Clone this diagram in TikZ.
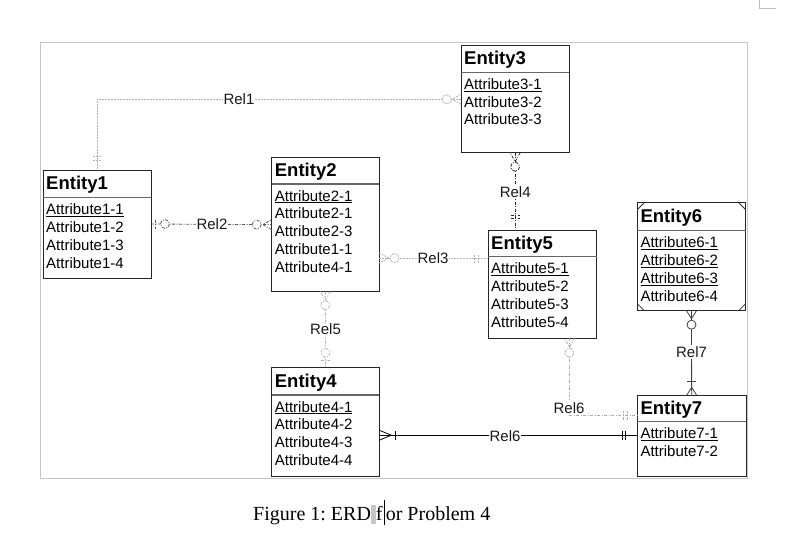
\documentclass[tikz,border=0pt]{standalone}
\usepackage{fontspec}
\setmainfont{Liberation Serif}
\newfontfamily\arialfont{Liberation Sans}
\usetikzlibrary{calc}
\frenchspacing
\tikzset{
  ebox/.style={draw=black!85, line width=1pt, fill=white, inner sep=0pt, outer sep=0pt, anchor=north west},
  etitle/.style={font=\arialfont\bfseries\fontsize{18.5}{20}\selectfont, inner sep=0pt, anchor=base west},
  eattr/.style={font=\arialfont\fontsize{15}{17}\selectfont, inner sep=0pt, anchor=base west},
  esep/.style={draw=black!60, line width=1.5pt},
  rlabel/.style={font=\arialfont\fontsize{15}{17}\selectfont, fill=white, inner sep=1pt, text=black!90},
  sym/.style={solid, line width=0.75pt},
  dashdot/.style={dash pattern=on 3pt off 1.5pt on 1pt off 1.5pt},
  rel1/.style={draw=gray!60, line width=0.8pt, dash pattern=on 2pt off 1pt},
  rel2/.style={draw=black!65, line width=0.8pt, dashdot},
  rel3/.style={draw=gray!60, line width=0.8pt, dash pattern=on 2pt off 1pt},
  rel4/.style={draw=black!85, line width=0.8pt, dashdot},
  rel5/.style={draw=gray!60, line width=0.8pt, dashdot},
  rel6a/.style={draw=gray!65, line width=0.8pt, dashdot},
  rel6b/.style={draw=black, line width=0.8pt},
  rel7/.style={draw=black!75, line width=0.8pt},
  frame/.style={draw=gray!45, line width=1pt},
}
\newcommand\erdentity[8]{%
  \node[ebox, minimum width=#4pt, minimum height=#5pt] (#1) at (#2,#3) {};
  \draw[esep] ($(#1.north west)+(0,#6)$) -- ($(#1.north east)+(0,#6)$);
  \node[etitle] (#1-t) at ($(#1.north west)+(3,#6/2+5.8)$) {#7};
  \foreach \a [count=\i] in {#8} {
    \node[eattr] (#1-a\i) at ($(#1.north west)+(3,#6+17+\i*17.8-17.8)$) {\a};
  }%
}
\newcommand\crowsym[4]{\draw[sym,#1,shift={(#2)},rotate=#3] (0,-5) -- (#4,0) -- (0,5);}
\newcommand\ringsym[4]{\draw[sym,#1,fill=white,shift={(#2)},rotate=#3] (#4,0) circle[radius=4.5];}
\newcommand\ticksym[4]{\draw[sym,#1,shift={(#2)},rotate=#3] (#4,-4.5) -- (#4,4.5);}
\begin{document}
\begin{tikzpicture}[x=1pt,y=-1pt]
\useasboundingbox (0,0) rectangle (787,536);
\fill[white] (0,0) rectangle (787,536);
% page corner mark and frame
\draw[draw=gray!50, line width=0.8pt] (759.3,0) -- (759.3,8.3) -- (776,8.3);
\draw[frame] (40.5,42.3) rectangle (747.3,478.3);

% entities
\erdentity{e1}{43}{170}{108}{108}{27.7}{Entity1}{\underline{Attribute1-1},Attribute1-2,Attribute1-3,Attribute1-4}
\erdentity{e2}{271.7}{157.5}{107.3}{134.2}{26.5}{Entity2}{\underline{Attribute2-1},Attribute2-1,Attribute2-3,Attribute1-1,Attribute4-1}
\erdentity{e3}{461}{45}{108.3}{107.7}{27.3}{Entity3}{\underline{Attribute3-1},Attribute3-2,Attribute3-3}
\erdentity{e4}{271.7}{367.7}{107.6}{108.3}{27.3}{Entity4}{\underline{Attribute4-1},Attribute4-2,Attribute4-3,Attribute4-4}
\erdentity{e5}{488}{230}{108.7}{108}{26.7}{Entity5}{\underline{Attribute5-1},Attribute5-2,Attribute5-3,Attribute5-4}
\erdentity{e6}{637.3}{202.7}{108.4}{108}{28}{Entity6}{\underline{Attribute6-1},\underline{Attribute6-2},\underline{Attribute6-3},Attribute6-4}
\erdentity{e7}{637.3}{395.3}{108.7}{80.7}{26.4}{Entity7}{\underline{Attribute7-1},Attribute7-2}
% Entity6 corner marks
\draw[black!80, line width=0.8pt]
  ($(e6.north west)+(0,7)$) -- ($(e6.north west)+(7,0)$)
  ($(e6.north east)+(0,7)$) -- ($(e6.north east)+(-7,0)$)
  ($(e6.south west)+(0,-7)$) -- ($(e6.south west)+(7,0)$)
  ($(e6.south east)+(0,-7)$) -- ($(e6.south east)+(-7,0)$);

% connector end points
\coordinate (r1a) at ($(e3.north west)+(0,54.3)$);
\coordinate (r3a) at ($(e2.north east)+(0,100.5)$);
\coordinate (r3b) at (e5.west |- r3a);
\coordinate (r4b) at (e3.south |- e5.north);
\coordinate (r6a) at ($(e5.south west)+(81.3,0)$);
\coordinate (r6c) at ($(e7.north west)+(0,19.7)$);
\coordinate (r6d) at ($(e4.north east)+(0,67.5)$);
\coordinate (r6e) at (e7.west |- r6d);

% connectors
\draw[rel1] (r1a) -| (e1.north);
\draw[rel2] (e1.east) -- (e2.west);
\draw[rel3] (r3a) -- (r3b);
\draw[rel4] (e3.south) -- (r4b);
\draw[rel5] (e2.south) -- (e4.north);
\draw[rel6a] (r6a) |- (r6c);
\draw[rel6b] (r6d) -- (r6e);
\draw[rel7] (e6.south) -- (e7.north);

% end symbols
\crowsym{rel1}{r1a}{180}{9} \ringsym{rel1}{r1a}{180}{14.3}
\ticksym{rel1}{e1.north}{90}{10} \ticksym{rel1}{e1.north}{90}{13.5}
\ticksym{rel2}{e1.east}{0}{4} \ringsym{rel2}{e1.east}{0}{14}
\crowsym{rel2}{e2.west}{180}{9} \ringsym{rel2}{e2.west}{180}{15}
\crowsym{rel3}{r3a}{0}{10} \ringsym{rel3}{r3a}{0}{15.5}
\ticksym{rel3}{r3b}{180}{10} \ticksym{rel3}{r3b}{180}{14}
\crowsym{rel4}{e3.south}{270}{9} \ringsym{rel4}{e3.south}{270}{14}
\ticksym{rel4}{r4b}{90}{12} \ticksym{rel4}{r4b}{90}{15}
\crowsym{rel5}{e2.south}{270}{8} \ringsym{rel5}{e2.south}{270}{13.5}
\ticksym{rel5}{e4.north}{90}{7} \ringsym{rel5}{e4.north}{90}{15}
\crowsym{rel6a}{r6a}{270}{9} \ringsym{rel6a}{r6a}{270}{14.7}
\ticksym{rel6a}{r6c}{180}{10} \ticksym{rel6a}{r6c}{180}{14}
\crowsym{rel6b}{r6d}{0}{12} \ticksym{rel6b}{r6d}{0}{16.5}
\ticksym{rel6b}{r6e}{180}{12} \ticksym{rel6b}{r6e}{180}{15}
\crowsym{rel7}{e6.south}{270}{8} \ringsym{rel7}{e6.south}{270}{14}
\crowsym{rel7}{e7.north}{90}{8} \ticksym{rel7}{e7.north}{90}{13.6}

% relationship labels
\node[rlabel] (l1) at (239,99.3) {Rel1};
\node[rlabel] (l2) at (212,224.3) {Rel2};
\node[rlabel] (l3) at (433,258) {Rel3};
\node[rlabel] (l4) at (515.2,191.7) {Rel4};
\node[rlabel] (l5) at (325.5,329.3) {Rel5};
\node[rlabel] (l6a) at (569,408) {Rel6};
\node[rlabel] (l6b) at (505,436) {Rel6};
\node[rlabel] (l7) at (691.5,352) {Rel7};

% caption
\node[anchor=base west, inner sep=0pt, font=\fontsize{20}{24}\selectfont] (cap) at (253,520)
  {Figure 1: ERD{\setlength\fboxsep{0pt}\colorbox{gray!45}{\rule[-4pt]{0pt}{19pt}\hspace{5pt}}}f\hspace{1.5pt}\rule[-5pt]{0.7pt}{25pt}\hspace{1pt}or Problem 4};
\end{tikzpicture}
\end{document}
